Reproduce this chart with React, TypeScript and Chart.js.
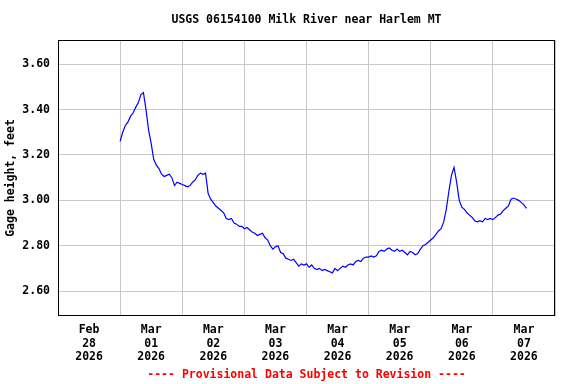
import React, { useEffect, useRef } from "react";
import { Chart, registerables } from "chart.js";

Chart.register(...registerables);

const TITLE = "USGS 06154100 Milk River near Harlem MT";
const Y_TITLE = "Gage height, feet";
const FOOTER = "---- Provisional Data Subject to Revision ----";

// x axis in hours counted from Feb 27 2026 12:00
const X_MIN_HOURS = 0;
const X_MAX_HOURS = 192;
const SERIES_START_HOURS = 24; // Feb 28 2026 12:00
const SERIES_STEP_HOURS = 1;

// hourly gage height, feet
const gageHeight = [
  3.26, 3.30, 3.33, 3.345, 3.37, 3.385, 3.41, 3.43, 3.465, 3.475,
  3.40, 3.31, 3.25, 3.18, 3.155, 3.14, 3.115, 3.105, 3.11, 3.115,
  3.10, 3.065, 3.08, 3.075, 3.07, 3.065, 3.06, 3.065, 3.08, 3.09,
  3.11, 3.12, 3.115, 3.12, 3.03, 3.005, 2.99, 2.975, 2.965, 2.955,
  2.945, 2.92, 2.915, 2.92, 2.90, 2.895, 2.885, 2.885, 2.875, 2.88,
  2.87, 2.86, 2.855, 2.845, 2.85, 2.855, 2.835, 2.825, 2.80, 2.785,
  2.795, 2.80, 2.77, 2.765, 2.745, 2.74, 2.735, 2.74, 2.725, 2.71,
  2.72, 2.715, 2.72, 2.705, 2.715, 2.70, 2.695, 2.70, 2.69, 2.695,
  2.69, 2.685, 2.68, 2.70, 2.69, 2.70, 2.71, 2.705, 2.715, 2.72,
  2.715, 2.73, 2.735, 2.73, 2.745, 2.75, 2.75, 2.755, 2.75, 2.755,
  2.775, 2.78, 2.775, 2.785, 2.79, 2.78, 2.775, 2.785, 2.775, 2.78,
  2.77, 2.76, 2.775, 2.77, 2.76, 2.765, 2.785, 2.80, 2.805, 2.815,
  2.825, 2.835, 2.85, 2.865, 2.875, 2.905, 2.96, 3.04, 3.11, 3.145,
  3.08, 3.00, 2.97, 2.96, 2.945, 2.935, 2.925, 2.91, 2.905, 2.91,
  2.905, 2.92, 2.915, 2.92, 2.915, 2.925, 2.935, 2.94, 2.955, 2.965,
  2.975, 3.005, 3.01, 3.005, 3.00, 2.99, 2.98, 2.965,
];

// midnight of each day, hours from Feb 27 12:00
const dayTickHours = [12, 36, 60, 84, 108, 132, 156, 180];
const dayTickLabels = [
  ["Feb", "28", "2026"],
  ["Mar", "01", "2026"],
  ["Mar", "02", "2026"],
  ["Mar", "03", "2026"],
  ["Mar", "04", "2026"],
  ["Mar", "05", "2026"],
  ["Mar", "06", "2026"],
  ["Mar", "07", "2026"],
];

const yTicks = [2.6, 2.8, 3.0, 3.2, 3.4, 3.6];
const Y_MIN = 2.49;
const Y_MAX = 3.707;

const FONT = { family: "'DejaVu Sans Mono', monospace", size: 11.5, weight: "bold" as const };

const frame = {
  id: "frame",
  afterDraw(chart: any) {
    const { ctx, chartArea } = chart;
    const l = Math.round(chartArea.left) + 0.5;
    const t = Math.round(chartArea.top) + 0.5;
    const r = Math.round(chartArea.right) - 0.5;
    const b = Math.round(chartArea.bottom) - 0.5;
    ctx.save();
    ctx.strokeStyle = "#000000";
    ctx.lineWidth = 1;
    ctx.strokeRect(l, t, r - l, b - t);
    ctx.restore();
  },
};

export default function App() {
  const ref = useRef<HTMLCanvasElement>(null);
  useEffect(() => {
    if (!ref.current) return;
    const points = gageHeight.map((v, i) => ({ x: SERIES_START_HOURS + i * SERIES_STEP_HOURS, y: v }));
    const chart = new Chart(ref.current, {
      type: "line",
      data: {
        datasets: [
          {
            data: points,
            borderColor: "#0000ff",
            borderWidth: 1.2,
            pointRadius: 0,
            tension: 0,
            fill: false,
          },
        ],
      },
      options: {
        animation: false,
        responsive: false,
        events: [],
        layout: { padding: { left: 0, right: 21, top: 0, bottom: 0 } },
        plugins: {
          legend: { display: false },
          tooltip: { enabled: false },
          title: { display: false },
        },
        scales: {
          xTop: {
            type: "linear",
            position: "top",
            min: X_MIN_HOURS,
            max: X_MAX_HOURS,
            afterFit: (scale: any) => {
              scale.height = 40;
            },
            grid: { display: false, drawTicks: false },
            border: { display: false },
            ticks: { display: false },
            title: {
              display: true,
              text: TITLE,
              color: "#000000",
              font: FONT,
              padding: { top: 13, bottom: 0 },
            },
          },
          x: {
            type: "linear",
            min: X_MIN_HOURS,
            max: X_MAX_HOURS,
            afterBuildTicks: (scale: any) => {
              scale.ticks = dayTickHours.map((v) => ({ value: v }));
            },
            afterFit: (scale: any) => {
              scale.height = 68;
            },
            grid: { color: "#c8c8c8", offset: true, drawTicks: false, lineWidth: 1 },
            border: { display: false },
            ticks: {
              autoSkip: false,
              maxRotation: 0,
              padding: 7,
              color: "#000000",
              font: FONT,
              callback: (_v: any, i: number) => dayTickLabels[i],
            },
            title: {
              display: true,
              text: FOOTER,
              color: "#ff0000",
              font: FONT,
              padding: { top: 0, bottom: 2 },
            },
          },
          y: {
            type: "linear",
            min: Y_MIN,
            max: Y_MAX,
            afterBuildTicks: (scale: any) => {
              scale.ticks = yTicks.map((v) => ({ value: v }));
            },
            afterFit: (scale: any) => {
              scale.width = 58;
            },
            grid: { color: "#c8c8c8", drawTicks: false, lineWidth: 1 },
            border: { display: false },
            ticks: {
              padding: 8,
              color: "#000000",
              font: FONT,
              callback: (v: any) => Number(v).toFixed(2),
            },
            title: {
              display: true,
              text: Y_TITLE,
              color: "#000000",
              font: FONT,
              padding: { top: 4, bottom: 0 },
            },
          },
        },
      },
      plugins: [frame],
    });
    return () => chart.destroy();
  }, []);
  return (
    <div style={{ position: "absolute", left: 0, top: 0, width: 576, height: 384, background: "#ffffff" }}>
      <canvas ref={ref} width={576} height={384} style={{ width: 576, height: 384 }} />
    </div>
  );
}
